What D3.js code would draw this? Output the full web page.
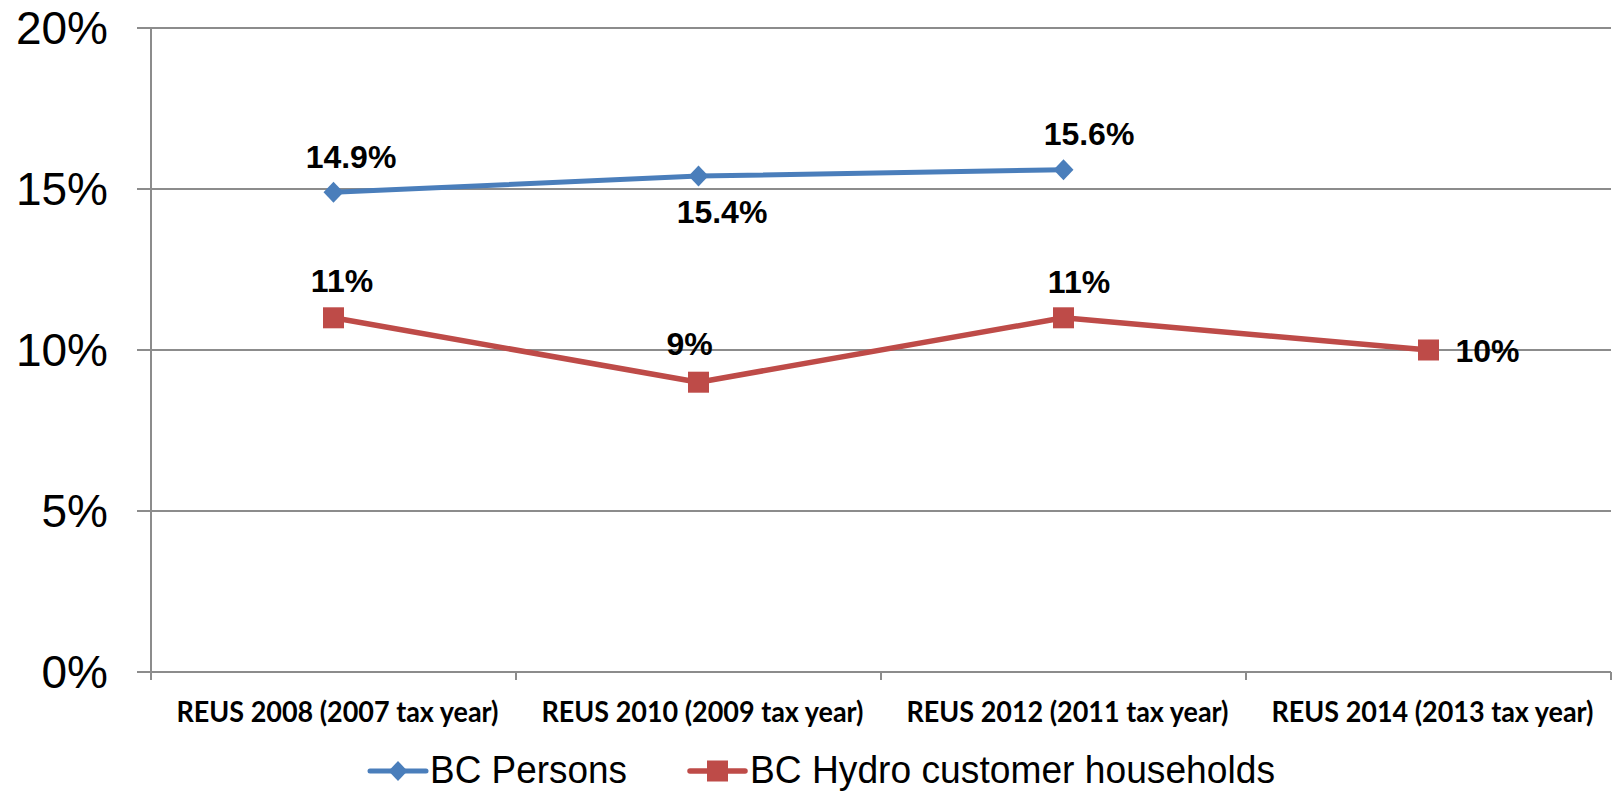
<!DOCTYPE html>
<html>
<head>
<meta charset="utf-8">
<script src="https://cdn.jsdelivr.net/npm/d3@7/dist/d3.min.js"></script>
<style>
  html, body { margin: 0; padding: 0; background: #ffffff; }
  svg { display: block; }
</style>
</head>
<body>
<svg id="chart" width="1612" height="791"></svg>
<script>
// Survey rounds along the x axis
const categories = [
  "REUS 2008 (2007 tax year)",
  "REUS 2010 (2009 tax year)",
  "REUS 2012 (2011 tax year)",
  "REUS 2014 (2013 tax year)"
];

// Share of population (%) per survey round; null = no figure for that round
const bcPersons = [14.9, 15.4, 15.6, null];
const bcHydroHouseholds = [11, 9, 11, 10];

// Text shown next to each point
const bcPersonsLabels = ["14.9%", "15.4%", "15.6%", null];
const bcHydroLabels = ["11%", "9%", "11%", "10%"];

// Y axis ticks
const yTicks = [0, 5, 10, 15, 20];
const yTickLabels = ["0%", "5%", "10%", "15%", "20%"];

// Series names for the legend
const seriesNames = ["BC Persons", "BC Hydro customer households"];

// ---- layout ----
const plotLeft = 151, plotRight = 1611, plotTop = 28, plotBottom = 672;
const blue = "#4A7EBB", red = "#BE4B48", gridColor = "#8c8c8c";

// label placement relative to each point: [dx, dy, anchor]
const personsLabelPlacement = [[17.5, -24, "middle"], [23.5, 47, "middle"], [25.5, -24.5, "middle"], null];
const hydroLabelPlacement = [[8.5, -26, "middle"], [-9, -27, "middle"], [15.5, -25, "middle"], [27, 12, "start"]];

const svg = d3.select("#chart");

const x = d3.scaleBand().domain(categories).range([plotLeft, plotRight]).padding(0);
const y = d3.scaleLinear().domain([0, 20]).range([plotBottom, plotTop]);
const cx = c => x(c) + x.bandwidth() / 2;

// horizontal gridlines (with short ticks left of the axis)
svg.append("g").selectAll("line").data(yTicks).join("line")
  .attr("x1", 137).attr("x2", plotRight)
  .attr("y1", d => y(d)).attr("y2", d => y(d))
  .attr("stroke", gridColor).attr("stroke-width", 2);

// vertical axis
svg.append("line")
  .attr("x1", plotLeft).attr("x2", plotLeft)
  .attr("y1", plotTop).attr("y2", plotBottom + 8)
  .attr("stroke", gridColor).attr("stroke-width", 2);

// category boundary ticks under the x axis
const boundaries = categories.map(c => x(c)).concat([plotRight]);
svg.append("g").selectAll("line").data(boundaries.slice(1)).join("line")
  .attr("x1", d => d).attr("x2", d => d)
  .attr("y1", plotBottom).attr("y2", plotBottom + 8)
  .attr("stroke", gridColor).attr("stroke-width", 2);

// y tick labels
svg.append("g").selectAll("text").data(yTicks).join("text")
  .attr("x", 108).attr("y", d => y(d) + 16)
  .attr("text-anchor", "end")
  .attr("font-family", "'Liberation Sans', Arial, sans-serif")
  .attr("font-size", 46)
  .attr("fill", "#000")
  .text((d, i) => yTickLabels[i]);

// x category labels
svg.append("g").selectAll("text").data(categories).join("text")
  .attr("x", d => cx(d) + 4).attr("y", 722)
  .attr("text-anchor", "middle")
  .attr("font-family", "Lato, 'Open Sans', sans-serif")
  .attr("font-weight", "bold")
  .attr("font-size", 28)
  .attr("textLength", 322)
  .attr("lengthAdjust", "spacingAndGlyphs")
  .attr("fill", "#000")
  .text(d => d);

// series lines
function drawSeries(values, color, width) {
  const pts = categories.map((c, i) => ({ c, v: values[i] })).filter(d => d.v != null);
  const line = d3.line().x(d => cx(d.c)).y(d => y(d.v));
  svg.append("path").datum(pts)
    .attr("d", line)
    .attr("fill", "none")
    .attr("stroke", color)
    .attr("stroke-width", width)
    .attr("stroke-linejoin", "round");
  return pts;
}

const bluePts = drawSeries(bcPersons, blue, 5);
const redPts = drawSeries(bcHydroHouseholds, red, 5.5);

// markers
const diamond = (px, py, s) => `M${px},${py - s}L${px + s * 0.95},${py}L${px},${py + s}L${px - s * 0.95},${py}Z`;
svg.append("g").selectAll("path").data(bluePts).join("path")
  .attr("d", d => diamond(cx(d.c), y(d.v), 10.5))
  .attr("fill", blue);

svg.append("g").selectAll("rect").data(redPts).join("rect")
  .attr("x", d => cx(d.c) - 10.5).attr("y", d => y(d.v) - 10.5)
  .attr("width", 21).attr("height", 21)
  .attr("fill", red);

// value labels
function drawLabels(values, labels, placement) {
  const items = categories.map((c, i) => ({ c, v: values[i], t: labels[i], p: placement[i] }))
    .filter(d => d.v != null);
  svg.append("g").selectAll("text").data(items).join("text")
    .attr("x", d => cx(d.c) + d.p[0])
    .attr("y", d => y(d.v) + d.p[1])
    .attr("text-anchor", d => d.p[2])
    .attr("font-family", "'Liberation Sans', Arial, sans-serif")
    .attr("font-weight", "bold")
    .attr("font-size", 32)
    .attr("fill", "#000")
    .text(d => d.t);
}
drawLabels(bcPersons, bcPersonsLabels, personsLabelPlacement);
drawLabels(bcHydroHouseholds, bcHydroLabels, hydroLabelPlacement);

// legend
const legend = svg.append("g");
const legendY = 771;
// BC Persons
legend.append("line").attr("x1", 370).attr("x2", 426).attr("y1", legendY).attr("y2", legendY)
  .attr("stroke", blue).attr("stroke-width", 5).attr("stroke-linecap", "round");
legend.append("path").attr("d", diamond(398, legendY, 10)).attr("fill", blue);
legend.append("text").attr("x", 430).attr("y", 783)
  .attr("font-family", "'Liberation Sans', Arial, sans-serif")
  .attr("font-size", 39).attr("textLength", 197).attr("lengthAdjust", "spacingAndGlyphs")
  .attr("fill", "#000").text(seriesNames[0]);
// BC Hydro customer households
legend.append("line").attr("x1", 690).attr("x2", 745).attr("y1", legendY).attr("y2", legendY)
  .attr("stroke", red).attr("stroke-width", 5.5).attr("stroke-linecap", "round");
legend.append("rect").attr("x", 707).attr("y", legendY - 10.5).attr("width", 21).attr("height", 21).attr("fill", red);
legend.append("text").attr("x", 750).attr("y", 783)
  .attr("font-family", "'Liberation Sans', Arial, sans-serif")
  .attr("font-size", 39).attr("textLength", 525).attr("lengthAdjust", "spacingAndGlyphs")
  .attr("fill", "#000").text(seriesNames[1]);
</script>
</body>
</html>
